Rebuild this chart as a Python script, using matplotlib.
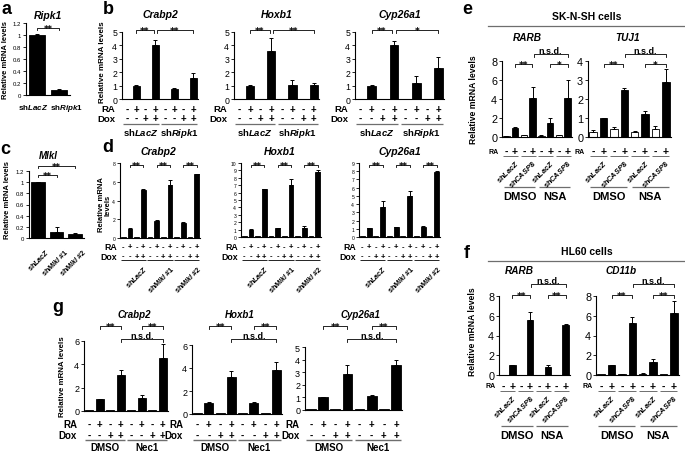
import numpy as np
import matplotlib
matplotlib.use('Agg')
import matplotlib.pyplot as plt
import matplotlib.transforms as mtrans

plt.rcParams['font.family'] = ['Liberation Sans', 'DejaVu Sans']
plt.rcParams['font.weight'] = 'bold'
plt.rcParams['mathtext.fontset'] = 'custom'
plt.rcParams['mathtext.it'] = 'Liberation Sans:italic:bold'
plt.rcParams['mathtext.rm'] = 'Liberation Sans:bold'
plt.rcParams['mathtext.bf'] = 'Liberation Sans:bold'
plt.rcParams['axes.linewidth'] = 0.8

# ---------------- data ----------------
# a
a_labels = ['sh$\\mathit{LacZ}$', 'sh$\\mathit{Ripk1}$']
a_ripk1 = [1.0, 0.08]
a_ripk1_err = [0.01, 0.015]
a_ticks = [0, 0.2, 0.4, 0.6, 0.8, 1.0, 1.2]
a_ticklabels = ['0', '0.2', '0.4', '0.6', '0.8', '1', '1.2']

# b
b_ra = ['-', '+', '-', '+', '-', '+', '-', '+']
b_dox = ['-', '-', '+', '+', '-', '-', '+', '+']
b_groups = ['sh$\\mathit{LacZ}$', 'sh$\\mathit{Ripk1}$']
b_crabp2 = [0.03, 1.0, 0.03, 4.05, 0.03, 0.75, 0.03, 1.55]
b_crabp2_err = [0, 0.02, 0, 0.35, 0, 0.08, 0, 0.4]
b_hoxb1 = [0.03, 1.0, 0.03, 3.55, 0.03, 1.08, 0.03, 1.02]
b_hoxb1_err = [0, 0.02, 0, 1.0, 0, 0.35, 0, 0.15]
b_cyp = [0.03, 1.0, 0.03, 4.0, 0.03, 1.2, 0.03, 2.35]
b_cyp_err = [0, 0.02, 0, 0.35, 0, 0.55, 0, 0.75]

# c
c_labels = ['sh$\\mathit{LacZ}$', 'sh$\\mathit{Mlkl}$ #1', 'sh$\\mathit{Mlkl}$ #2']
c_mlkl = [1.0, 0.1, 0.075]
c_mlkl_err = [0.005, 0.09, 0.02]

# d
d_ra = ['-', '+', '-', '+'] * 3
d_dox = ['-', '-', '+', '+'] * 3
d_groups = ['sh$\\mathit{LacZ}$', 'sh$\\mathit{Mlkl}$ #1', 'sh$\\mathit{Mlkl}$ #2']
d_crabp2 = [0.12, 1.0, 0.08, 5.15, 0.08, 1.85, 0.08, 5.65, 0.12, 1.55, 0.08, 6.85]
d_crabp2_err = [0, 0.02, 0, 0.05, 0, 0.03, 0, 0.55, 0, 0.12, 0, 0.03]
d_hoxb1 = [0.08, 1.0, 0.08, 6.5, 0.08, 1.2, 0.08, 7.0, 0.08, 1.2, 0.08, 8.85]
d_hoxb1_err = [0, 0.03, 0, 0.05, 0, 0.03, 0, 0.85, 0, 0.3, 0, 0.15]
d_cyp = [0.1, 1.05, 0.1, 3.7, 0.1, 1.2, 0.1, 4.95, 0.1, 1.2, 0.1, 7.85]
d_cyp_err = [0, 0.03, 0, 0.65, 0, 0.04, 0, 0.6, 0, 0.08, 0, 0.2]

# e
e_ra = ['-', '+'] * 4
e_sh = ['sh$\\mathit{LacZ}$', 'sh$\\mathit{CASP8}$', 'sh$\\mathit{LacZ}$', 'sh$\\mathit{CASP8}$']
e_treat = ['DMSO', 'NSA']
e_rarb = [0.1, 1.0, 0.2, 4.15, 0.15, 1.5, 0.2, 4.15]
e_rarb_err = [0.02, 0.02, 0.06, 1.15, 0.03, 0.55, 0.05, 1.9]
e_tuj1 = [0.26, 1.0, 0.4, 2.47, 0.26, 1.2, 0.44, 2.9]
e_tuj1_err = [0.12, 0.02, 0.15, 0.13, 0.05, 0.15, 0.15, 0.7]

# f
f_rarb = [0.02, 1.0, 0.02, 5.6, 0.02, 0.78, 0.02, 5.05]
f_rarb_err = [0, 0.02, 0, 0.75, 0, 0.25, 0, 0.07]
f_cd11b = [0.08, 1.0, 0.12, 5.25, 0.15, 1.28, 0.08, 6.25]
f_cd11b_err = [0, 0.02, 0.02, 0.6, 0.04, 0.35, 0, 1.2]

# g
g_ra = ['-', '+', '-', '+'] * 2
g_dox = ['-', '-', '+', '+'] * 2
g_treat = ['DMSO', 'Nec1']
g_crabp2 = [0.05, 1.0, 0.05, 3.1, 0.05, 1.1, 0.05, 4.55]
g_crabp2_err = [0, 0.02, 0, 0.4, 0, 0.25, 0, 1.2]
g_hoxb1 = [0.05, 1.0, 0.05, 3.2, 0.05, 1.0, 0.05, 3.85]
g_hoxb1_err = [0, 0.02, 0, 0.5, 0, 0.05, 0, 0.65]
g_cyp = [0.05, 1.0, 0.05, 2.85, 0.05, 1.1, 0.05, 3.6]
g_cyp_err = [0, 0.02, 0, 0.75, 0, 0.08, 0, 0.35]

# ---------------- figure ----------------
W, H = 685, 452
fig = plt.figure(figsize=(W / 100, H / 100), dpi=100)
fig.patch.set_facecolor('white')
GRAY = '#6e6e6e'


def fx(x):
    return x / W


def fy(y):
    return 1 - y / H


def trans(ax):
    return mtrans.blended_transform_factory(ax.transData, fig.transFigure)


def bar_ax(x0, x1, ytop, ybot, vals, errs, ymax, yticks, tick_fs,
           ticklabels=None, colors=None, width=0.78):
    ax = fig.add_axes([x0 / W, 1 - ybot / H, (x1 - x0) / W, (ybot - ytop) / H])
    n = len(vals)
    x = np.arange(n)
    fc = colors if colors is not None else ['black'] * n
    ax.bar(x, vals, width=width, color=fc, edgecolor='black', linewidth=0.6, zorder=2)
    e = np.asarray(errs, dtype=float)
    v = np.asarray(vals, dtype=float)
    m = e > 0
    ax.errorbar(x[m], v[m], yerr=[np.zeros(m.sum()), e[m]], fmt='none', ecolor='black',
                elinewidth=0.7, capsize=1.6, capthick=0.7, zorder=3, clip_on=False)
    ax.set_xlim(-0.5, n - 0.5)
    ax.set_ylim(0, ymax)
    ax.set_yticks(yticks)
    if ticklabels is not None:
        ax.set_yticklabels(ticklabels)
    ax.tick_params(axis='y', labelsize=tick_fs, length=2, width=0.6, pad=1.5, direction='out')
    ax.tick_params(axis='x', length=0, labelbottom=False)
    for lbl in ax.get_yticklabels():
        lbl.set_fontweight('normal')
    for s in ['top', 'right']:
        ax.spines[s].set_visible(False)
    ax.patch.set_alpha(0)
    return ax


def signs_row(ax, x0, label, signs, y, fs_sign, fs_lab, lab_gap=3):
    t = trans(ax)
    for i, s in enumerate(signs):
        ax.text(i, fy(y), s, transform=t, ha='center', va='center', fontsize=fs_sign, clip_on=False)
    fig.text(fx(x0 - lab_gap), fy(y), label, ha='right', va='center', fontsize=fs_lab)


def hline(ax, i0, i1, y, color=GRAY, lw=0.9):
    ax.plot([i0, i1], [fy(y), fy(y)], transform=trans(ax), color=color, lw=lw,
            clip_on=False, solid_capstyle='butt')


def bracket(ax, i, j, y, txt, fs=6.5, tick=2.5, lw=0.6):
    t = trans(ax)
    ax.plot([i, i, j, j], [fy(y + tick), fy(y), fy(y), fy(y + tick)], transform=t,
            color='black', lw=lw, clip_on=False)
    if '*' in txt:
        ax.text((i + j) / 2, fy(y + 0.33 * fs * 1.389), txt, transform=t, ha='center',
                va='baseline', fontsize=fs, family='DejaVu Sans', clip_on=False)
    else:
        ax.text((i + j) / 2, fy(y - 1.2), txt, transform=t, ha='center',
                va='baseline', fontsize=fs, clip_on=False)


def rot_label(ax, xi, y, s, fs):
    ax.text(xi, fy(y), s, transform=trans(ax), rotation=45, rotation_mode='anchor',
            ha='right', va='top', fontsize=fs, clip_on=False)


def letter(x, y, s):
    fig.text(fx(x), fy(y), s, ha='center', va='center', fontsize=13)


def title(x, y, s, fs=7.5):
    fig.text(fx(x), fy(y), s, ha='center', va='center', fontsize=fs, style='italic')


def ylabel(x, y, s, fs=6):
    fig.text(fx(x), fy(y), s, ha='center', va='center', fontsize=fs, rotation=90,
             multialignment='center', linespacing=1.0)


# ---------------- panel a ----------------
letter(6, 9, 'a')
ax = bar_ax(26, 70, 24, 96, a_ripk1, a_ripk1_err, 1.2, a_ticks, 4.3, ticklabels=a_ticklabels, width=0.77)
title(48, 16, 'Ripk1', 7.5)
bracket(ax, 0, 1, 29, '**', 6, tick=2)
for xp, s in zip([33, 66], a_labels):
    fig.text(fx(xp), fy(108), s, ha='center', va='center', fontsize=5.8)
ylabel(6, 60, 'Relative mRNA levels', 5.5)

# ---------------- panel b ----------------
letter(108, 9, 'b')
ylabel(103, 62, 'Relative mRNA levels', 5.8)
b_specs = [
    (122, 198, 160, 'Crabp2', b_crabp2, b_crabp2_err, '**', '**'),
    (234, 319, 277, 'Hoxb1', b_hoxb1, b_hoxb1_err, '**', '**'),
    (355, 444, 400, 'Cyp26a1', b_cyp, b_cyp_err, '**', '*'),
]
for x0, x1, tx, name, vals, errs, s1, s2 in b_specs:
    ax = bar_ax(x0, x1, 33, 100, vals, errs, 5, range(6), 6.3, width=0.78)
    title(tx, 15, name, 7.5)
    signs_row(ax, x0, 'RA', b_ra, 109.5, 7, 6.8, lab_gap=7)
    signs_row(ax, x0, 'Dox', b_dox, 119, 7, 6.8, lab_gap=7)
    hline(ax, -0.4, 3.4, 125)
    hline(ax, 3.6, 7.4, 125)
    for k, g in enumerate(b_groups):
        ax.text(1.5 + 4 * k, fy(133), g, transform=trans(ax), ha='center', va='center',
                fontsize=6.8, clip_on=False)
    bracket(ax, 1, 2.85, 31, s1, 6.5)
    bracket(ax, 3.15, 7, 31, s2, 6.5)

# ---------------- panel c ----------------
letter(5, 149, 'c')
ax = bar_ax(29, 84, 172, 239, c_mlkl, c_mlkl_err, 1.2, a_ticks, 4.3, ticklabels=a_ticklabels, width=0.75)
title(48, 156, 'Mlkl', 7)
bracket(ax, 0, 1, 176, '**', 6, tick=2)
bracket(ax, 0, 2, 167, '**', 6, tick=2)
for i, s in enumerate(c_labels):
    rot_label(ax, i + 0.4, 247, s, 5.2)
ylabel(8, 200, 'Relative mRNA levels', 5.5)

# ---------------- panel d ----------------
letter(108, 148, 'd')
ylabel(105, 205, 'Relative mRNA\nlevels', 5.5)
d_specs = [
    (120, 200, 164, 239, 158, 'Crabp2', d_crabp2, d_crabp2_err, 8, [0, 2, 4, 6, 8]),
    (241, 321, 164, 238, 280, 'Hoxb1', d_hoxb1, d_hoxb1_err, 10, list(range(11))),
    (359, 440, 164, 238, 400, 'Cyp26a1', d_cyp, d_cyp_err, 9, list(range(10))),
]
for x0, x1, yt, yb, tx, name, vals, errs, ymax, ticks in d_specs:
    ax = bar_ax(x0, x1, yt, yb, vals, errs, ymax, ticks, 3.6, width=0.72)
    title(tx, 152, name, 7.5)
    signs_row(ax, x0, 'RA', d_ra, 248, 5.5, 6.3, lab_gap=3)
    signs_row(ax, x0, 'Dox', d_dox, 257, 5.5, 6.3, lab_gap=3)
    for k, g in enumerate(d_groups):
        hline(ax, 4 * k - 0.4, 4 * k + 3.4, 261, color='black', lw=0.6)
        rot_label(ax, 4 * k + 3.0, 264, g, 5.2)
        bracket(ax, 4 * k + 1, 4 * k + 3, 166, '**', 6, tick=2)

# ---------------- panels e and f ----------------
def panel_ef(specs, y_ra, y_pair, y_rot, y_grp, y_grp_txt, ylab_xy, head, head_y, line_y, let_y, let):
    letter(467, let_y, let)
    fig.text(fx(587), fy(head_y), head, ha='center', va='center', fontsize=7.5)
    fig.lines.append(plt.Line2D([fx(488), fx(685)], [fy(line_y), fy(line_y)],
                                transform=fig.transFigure, color=GRAY, lw=0.9))
    ylabel(ylab_xy[0], ylab_xy[1], 'Relative mRNA levels', 6.2)
    for (x0, x1, yt, yb, tx, ty, name, vals, errs, ymax, ticks, colors, brs) in specs:
        ax = bar_ax(x0, x1, yt, yb, vals, errs, ymax, ticks, 7.8, colors=colors, width=0.72)
        title(tx, ty, name, 7.2)
        signs_row(ax, x0, 'RA', e_ra, y_ra, 7.5, 5, lab_gap=3)
        for k in range(4):
            hline(ax, 2 * k - 0.35, 2 * k + 1.35, y_pair, color=GRAY, lw=0.7)
            rot_label(ax, 2 * k + 0.9, y_rot, e_sh[k], 5.3)
        for k, tname in enumerate(e_treat):
            hline(ax, 4 * k - 0.3, 4 * k + 3.3, y_grp, color=GRAY, lw=0.9)
            ax.text(4 * k + 1.5, fy(y_grp_txt), tname, transform=trans(ax), ha='center',
                    va='center', fontsize=8, clip_on=False)
        for (i, j, y, s) in brs:
            bracket(ax, i, j, y, s, 6.5)


white_black = ['white', 'black'] * 4
all_black = ['black'] * 8
panel_ef([
    (502, 572, 62, 138, 527, 38, 'RARB', e_rarb, e_rarb_err, 8, [0, 2, 4, 6, 8], white_black,
     [(1, 2.9, 65, '**'), (5, 7, 65, '*'), (3.1, 7, 55, 'n.s.d.')]),
    (588, 671, 62, 138, 628, 38, 'TUJ1', e_tuj1, e_tuj1_err, 4, [0, 1, 2, 3, 4], white_black,
     [(1, 2.9, 65, '**'), (5, 7, 65, '*'), (3.1, 7, 55, 'n.s.d.')]),
], y_ra=152, y_pair=156.5, y_rot=159, y_grp=188, y_grp_txt=197, ylab_xy=(474, 100),
    head='SK-N-SH cells', head_y=17, line_y=27, let_y=10, let='e')

panel_ef([
    (499, 570, 297, 376, 519, 271, 'RARB', f_rarb, f_rarb_err, 8, [0, 2, 4, 6, 8], all_black,
     [(1, 3, 296, '**'), (5, 7, 296, '**'), (3.1, 7, 285, 'n.s.d.')]),
    (596, 679, 297, 376, 621, 271, 'CD11b', f_cd11b, f_cd11b_err, 8, [0, 2, 4, 6, 8], all_black,
     [(1, 3, 296, '**'), (5, 7, 296, '**'), (3.1, 7, 285, 'n.s.d.')]),
], y_ra=387, y_pair=391.5, y_rot=394, y_grp=427, y_grp_txt=436, ylab_xy=(473, 332),
    head='HL60 cells', head_y=252, line_y=262, let_y=254, let='f')

# ---------------- panel g ----------------
letter(58, 307, 'g')
ylabel(62, 377, 'Relative mRNA levels', 5.7)
g_specs = [
    (84, 168, 342, 412, 134, 'Crabp2', g_crabp2, g_crabp2_err, 6, [0, 2, 4, 6], 7),
    (192, 282, 346, 415, 240, 'Hoxb1', g_hoxb1, g_hoxb1_err, 6, [0, 2, 4, 6], 9),
    (305, 402, 348, 411, 360, 'Cyp26a1', g_cyp, g_cyp_err, 5, list(range(6)), 5.5),
]
for x0, x1, yt, yb, tx, name, vals, errs, ymax, ticks, gap in g_specs:
    ax = bar_ax(x0, x1, yt, yb, vals, errs, ymax, ticks, 6.5, width=0.8)
    title(tx, 315, name, 7)
    signs_row(ax, x0, 'RA', g_ra, 425, 7, 7.0, lab_gap=gap)
    signs_row(ax, x0, 'Dox', g_dox, 436, 7, 7.0, lab_gap=gap)
    for k, tname in enumerate(g_treat):
        hline(ax, 4 * k - 0.4, 4 * k + 3.4, 441, color=GRAY, lw=1.0)
        ax.text(4 * k + 1.5, fy(448), tname, transform=trans(ax), ha='center', va='center',
                fontsize=7, clip_on=False)
    bracket(ax, 1, 3, 327, '**', 6.5)
    bracket(ax, 5, 7, 327, '**', 6.5)
    bracket(ax, 3, 7, 340, 'n.s.d.', 6.5)

fig.savefig('out.png', dpi=100, facecolor='white')
